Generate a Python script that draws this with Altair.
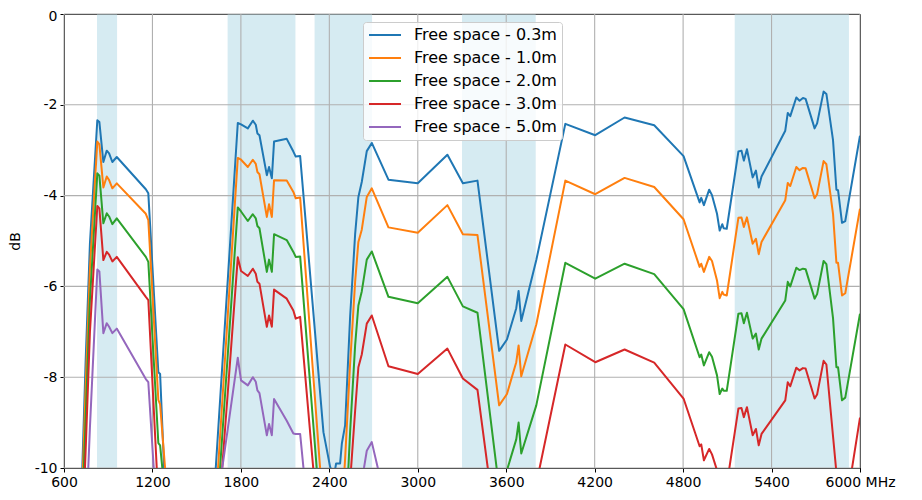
import altair as alt
import pandas as pd

# Frequencies (MHz) at which the curves were read
FREQ_MHZ = [
    700, 747, 776, 826, 840, 867, 890, 906, 928, 958, 1155, 1172, 1240, 1252, 1300,
    1600, 1779, 1801, 1847, 1881, 1901, 1912, 1926, 1976, 1991, 2010, 2025, 2111, 2156, 2172, 2202,
    2360, 2405, 2430, 2446, 2473, 2485, 2507, 2541, 2575, 2597, 2620, 2654, 2688, 2801,
    3000, 3201, 3306, 3405, 3552, 3605, 3668, 3684, 3702, 3804,
    4001, 4204, 4403, 4604, 4803,
    4912, 4923, 4941, 4977, 4996, 5030, 5048, 5066, 5075, 5096,
    5175, 5196, 5212, 5233, 5272, 5294, 5313, 5332,
    5493, 5510, 5527, 5568, 5590, 5613, 5631, 5692, 5709, 5753, 5772,
    5817, 5840, 5851, 5878, 5900, 6000,
]

FS_0_3M = [
    -12.5, -7.63, -5.05, -2.34, -2.38, -3.26, -3.01, -3.07, -3.26, -3.15, -3.86, -3.95, -7.89, -7.93, -11.6,
    -11.5, -2.40, -2.43, -2.52, -2.35, -2.44, -2.63, -2.67, -3.55, -3.37, -3.62, -2.81, -2.75, -3.03, -3.14, -3.13,
    -9.21, -9.97, -10.2, -9.9, -9.9, -9.46, -9.06, -6.67, -4.85, -4.03, -3.70, -3.02, -2.84, -3.65,
    -3.73, -3.10, -3.73, -3.67, -7.42, -7.17, -6.48, -6.10, -6.76, -5.42,
    -2.42, -2.67, -2.28, -2.45, -3.13,
    -4.15, -4.05, -4.21, -3.87, -3.99, -4.40, -4.77, -4.63, -4.72, -4.73,
    -3.03, -3.01, -3.23, -2.98, -3.60, -3.45, -3.82, -3.58,
    -2.57, -2.18, -2.25, -1.84, -1.91, -1.85, -1.87, -2.52, -2.41, -1.71, -1.76,
    -2.78, -3.87, -3.88, -4.60, -4.56, -2.68,
]

FS_1_0M = [
    -12.8, -8.2, -5.6, -2.81, -2.87, -3.82, -3.58, -3.66, -3.84, -3.73, -4.40, -4.54, -8.50, -8.60, -10.6,
    -12.3, -3.17, -3.21, -3.37, -3.21, -3.30, -3.48, -3.53, -4.47, -4.19, -4.47, -3.66, -3.67, -3.92, -4.06, -4.04,
    -11.0, -12.0, -12.5, -12.2, -12.0, -11.0, -9.8, -7.7, -5.9, -5.02, -4.75, -4.03, -3.84, -4.70,
    -4.82, -4.21, -4.85, -4.87, -8.62, -8.37, -7.67, -7.30, -7.98, -6.84,
    -3.67, -3.97, -3.61, -3.81, -4.52,
    -5.57, -5.50, -5.68, -5.35, -5.44, -5.87, -6.26, -6.12, -6.18, -6.20,
    -4.49, -4.48, -4.69, -4.48, -5.06, -4.95, -5.29, -5.02,
    -4.10, -3.72, -3.79, -3.37, -3.44, -3.39, -3.40, -4.06, -3.97, -3.24, -3.31,
    -4.40, -5.48, -5.48, -6.20, -6.15, -4.29,
]

FS_2_0M = [
    -13.2, -8.9, -6.3, -3.51, -3.56, -4.61, -4.39, -4.46, -4.63, -4.50, -5.35, -5.46, -9.45, -9.50, -11.1,
    -12.8, -4.26, -4.35, -4.56, -4.41, -4.50, -4.67, -4.72, -5.68, -5.41, -5.68, -4.85, -4.98, -5.24, -5.35, -5.34,
    -11.9, -13.0, -13.5, -13.2, -13.0, -12.5, -11.5, -9.2, -7.3, -6.42, -6.11, -5.41, -5.23, -6.23,
    -6.37, -5.79, -6.44, -6.58, -10.45, -10.05, -9.37, -9.00, -9.68, -8.62,
    -5.48, -5.83, -5.50, -5.73, -6.50,
    -7.56, -7.50, -7.74, -7.45, -7.55, -7.96, -8.37, -8.25, -8.30, -8.30,
    -6.60, -6.59, -6.81, -6.58, -7.15, -7.04, -7.39, -7.15,
    -6.31, -5.90, -6.00, -5.59, -5.64, -5.61, -5.62, -6.27, -6.17, -5.44, -5.51,
    -6.70, -7.78, -7.78, -8.51, -8.45, -6.60,
]

FS_3_0M = [
    -13.5, -9.6, -7.0, -4.23, -4.28, -5.42, -5.24, -5.30, -5.45, -5.35, -6.23, -6.30, -10.7, -11.4, -14.0,
    -13.2, -5.36, -5.66, -5.77, -5.61, -5.72, -5.90, -5.94, -6.89, -6.64, -6.89, -6.07, -6.27, -6.53, -6.71, -6.67,
    -12.6, -13.8, -14.2, -14.0, -13.8, -13.5, -12.5, -10.3, -8.74, -7.78, -7.50, -6.82, -6.64, -7.76,
    -7.93, -7.37, -8.03, -8.28, -11.9, -11.8, -11.2, -10.9, -11.5, -10.35,
    -7.28, -7.67, -7.39, -7.68, -8.47,
    -9.52, -9.48, -9.83, -9.58, -9.70, -10.05, -10.45, -10.3, -10.38, -10.38,
    -8.69, -8.68, -8.88, -8.66, -9.28, -9.14, -9.50, -9.25,
    -8.51, -8.11, -8.20, -7.79, -7.85, -7.80, -7.81, -8.47, -8.38, -7.64, -7.72,
    -9.30, -10.1, -10.15, -11.0, -10.95, -8.89,
]

# 5.0 m curve is below the plotted range above ~2.8 GHz
FS_5_0M = [
    -16.0, -11.4, -9.1, -5.63, -5.67, -7.03, -6.81, -6.89, -7.03, -6.93, -8.04, -8.11, -11.6, -12.2, -15.0,
    -11.7, -7.57, -8.07, -8.18, -8.00, -8.10, -8.29, -8.35, -9.28, -9.03, -9.28, -8.48, -8.96, -9.24, -9.25, -9.25,
    -14.5, -16.0, -16.5, -16.3, -16.0, -15.5, -14.5, -13.0, -12.0, -11.0, -10.3, -9.62, -9.43, -11.0,
]

SERIES_NAMES = [
    "Free space - 0.3m",
    "Free space - 1.0m",
    "Free space - 2.0m",
    "Free space - 3.0m",
    "Free space - 5.0m",
]
SERIES_COLORS = ["#1f77b4", "#ff7f0e", "#2ca02c", "#d62728", "#9467bd"]

# Shaded frequency bands (MHz)
BAND_START = [824, 1710, 2300, 3300, 5150]
BAND_END = [960, 2170, 2690, 3800, 5925]

X_TICKS = [600, 1200, 1800, 2400, 3000, 3600, 4200, 4800, 5400, 6000]
Y_TICKS = [0, -2, -4, -6, -8, -10]

rows = []
for name, vals in zip(SERIES_NAMES, [FS_0_3M, FS_1_0M, FS_2_0M, FS_3_0M, FS_5_0M]):
    for f, v in zip(FREQ_MHZ, vals):
        rows.append({"freq": f, "db": v, "series": name})
df = pd.DataFrame(rows)
bands = pd.DataFrame({"start": BAND_START, "end": BAND_END})
xgrid = pd.DataFrame({"v": X_TICKS})
ygrid = pd.DataFrame({"v": Y_TICKS})

FONT = "DejaVu Sans"
xscale = alt.Scale(domain=[600, 6000], nice=False, zero=False)
yscale = alt.Scale(domain=[-10, 0], nice=False, zero=False)

xaxis = alt.Axis(
    values=X_TICKS,
    title=None,
    grid=False,
    labelExpr="datum.value == 6000 ? '6000 MHz' : toString(datum.value)",
    labelFont=FONT,
    labelFontSize=14,
    labelColor="black",
    tickColor="black",
    domainColor="black",
    tickSize=4,
    labelPadding=3,
    labelFlush=False,
    labelOverlap=False,
)
yaxis = alt.Axis(
    values=Y_TICKS,
    title="dB",
    grid=False,
    labelExpr="toString(datum.value)",
    labelFont=FONT,
    labelFontSize=14,
    labelColor="black",
    labelOffset={"condition": {"test": "datum.value == 0", "value": 2.5}, "value": 0},
    tickColor="black",
    domainColor="black",
    tickSize=4,
    labelPadding=3,
    labelFlush=False,
    labelOverlap=False,
    titleFont=FONT,
    titleFontSize=14,
    titleFontWeight="normal",
    titleColor="black",
    titlePadding=12,
)

band_layer = alt.Chart(bands).mark_rect(color="#add8e6", opacity=0.5).encode(
    x=alt.X("start:Q", scale=xscale, axis=xaxis),
    x2="end:Q",
)

vgrid = alt.Chart(xgrid).mark_rule(color="#b0b0b0", strokeWidth=1.1).encode(
    x=alt.X("v:Q", scale=xscale, axis=xaxis)
)
hgrid = alt.Chart(ygrid).mark_rule(color="#b0b0b0", strokeWidth=1.1).encode(
    y=alt.Y("v:Q", scale=yscale, axis=yaxis)
)

lines = alt.Chart(df).mark_line(clip=True, strokeWidth=2, strokeJoin="round").encode(
    x=alt.X("freq:Q", scale=xscale, axis=xaxis),
    y=alt.Y("db:Q", scale=yscale, axis=yaxis),
    color=alt.Color(
        "series:N",
        sort=SERIES_NAMES,
        scale=alt.Scale(domain=SERIES_NAMES, range=SERIES_COLORS),
        legend=alt.Legend(
            orient="none",
            legendX=299,
            legendY=8,
            title=None,
            symbolType="stroke",
            symbolSize=1024,
            symbolStrokeWidth=2,
            labelFont=FONT,
            labelFontSize=16,
            labelColor="black",
            labelOffset=12,
            rowPadding=7,
            clipHeight=16,
            padding=5,
            fillColor="rgba(255,255,255,0.8)",
            strokeColor="#cccccc",
            cornerRadius=3,
            labelLimit=300,
        ),
    ),
)

chart = (
    alt.layer(band_layer, vgrid, hgrid, lines)
    .properties(
        width=796,
        height=454,
        autosize=alt.AutoSizeParams(type="none"),
        padding={"left": 56, "top": 6, "right": 54, "bottom": 24},
    )
    .configure_view(stroke="black", strokeWidth=1)
)

chart.save("out.html", embed_options={"renderer": "svg", "actions": False})
